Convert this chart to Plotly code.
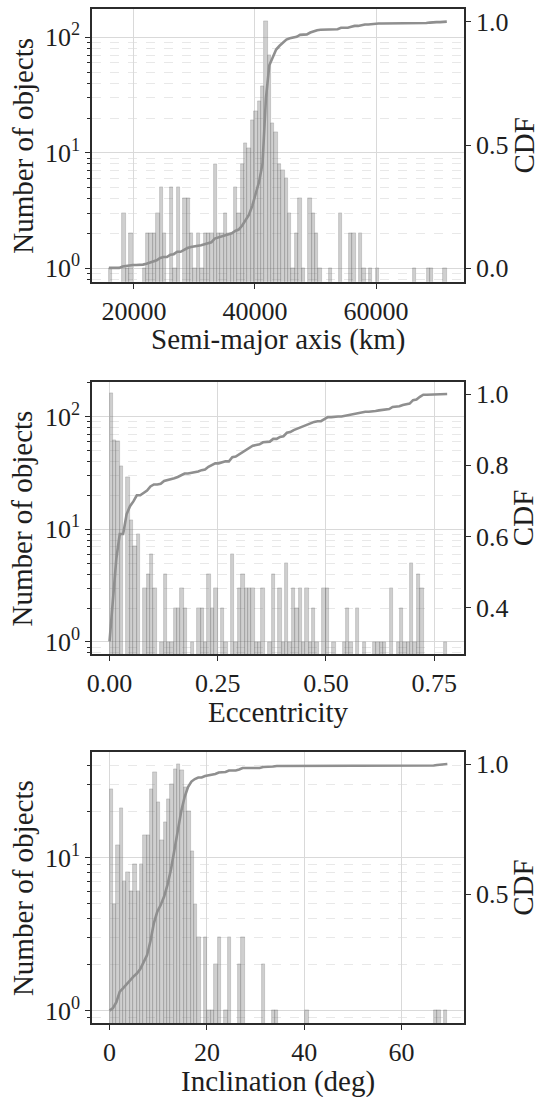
import numpy as np
import plotly.graph_objects as go

# ---------------- data (histogram bins: start, width, counts per bin) ----------------
SMA_START = 15870.0
SMA_WIDTH = 558.2
SMA_COUNTS = [1, 0, 0, 0, 3, 1, 2, 0, 0, 0,
              1, 2, 2, 2, 3, 5, 2, 0, 5, 1,
              5, 0, 4, 4, 2, 1, 2, 1, 2, 2,
              2, 8, 2, 2, 3, 2, 2, 5, 3, 8,
              12, 11, 19, 23, 28, 38, 138, 70, 18, 15,
              8, 7, 6, 3, 1, 2, 4, 1, 0, 4,
              3, 2, 1, 0, 0, 1, 0, 0, 3, 0,
              0, 2, 2, 0, 2, 1, 0, 1, 0, 1,
              0, 0, 0, 0, 0, 0, 0, 0, 0, 0,
              1, 0, 0, 0, 1, 1, 0, 0, 0, 1]

ECC_START = 0.0
ECC_WIDTH = 0.0078
ECC_COUNTS = [160, 62, 60, 36, 0, 29, 12, 7, 9, 0,
              3, 4, 6, 3, 0, 1, 4, 1, 1, 2,
              2, 3, 2, 0, 1, 0, 2, 2, 1, 4,
              2, 3, 0, 2, 1, 0, 6, 1, 3, 4,
              3, 3, 3, 1, 1, 3, 0, 1, 4, 0,
              3, 1, 5, 1, 3, 2, 3, 1, 3, 1,
              2, 1, 0, 3, 3, 0, 1, 0, 0, 1,
              2, 1, 0, 2, 0, 1, 0, 0, 1, 1,
              1, 1, 0, 3, 0, 1, 2, 1, 1, 5,
              1, 4, 3, 0, 0, 0, 0, 0, 0, 1]

INC_START = 0.0
INC_WIDTH = 0.694
INC_COUNTS = [28, 5, 12, 21, 7, 8, 6, 9, 6, 9,
              14, 14, 28, 36, 23, 13, 17, 24, 30, 38,
              41, 37, 29, 20, 11, 5, 3, 0, 3, 1,
              1, 2, 3, 0, 1, 3, 0, 0, 2, 3,
              0, 0, 0, 0, 0, 2, 0, 0, 1, 1,
              0, 0, 0, 0, 0, 0, 0, 0, 1, 0,
              0, 0, 0, 0, 0, 0, 0, 0, 0, 0,
              0, 0, 0, 0, 0, 0, 0, 0, 0, 0,
              0, 0, 0, 0, 0, 0, 0, 0, 0, 0,
              0, 0, 0, 0, 0, 0, 1, 1, 0, 1]

X_LABELS = ["Semi-major axis (km)", "Eccentricity", "Inclination (deg)"]
Y_LABEL = "Number of objects"
CDF_LABEL = "CDF"

# ---------------- styling / layout ----------------
W, H = 539, 1097
ML, MR = 92, 75
FONT = "'Liberation Serif', 'Times New Roman', 'DejaVu Serif', serif"
TXT = "#1e1e1e"
SPINE = "#2b2b2b"
GRID = "#d9d9d9"
MINOR_GRID = "#e8e8e8"
BAR_FILL = "rgba(128,128,128,0.38)"
BAR_EDGE = "rgba(110,110,110,0.35)"
LINE_COL = "#8f8f8f"
TICK_SIZE = 26
TITLE_SIZE = 29

panels = [
    dict(start=SMA_START, width=SMA_WIDTH, counts=SMA_COUNTS,
         top=9.3, bottom=281.7,
         xrange=[13074, 74530], xtick=[20000, 40000, 60000], xfmt="d",
         yrange=[-0.116, 2.242], ytick=[1, 10, 100],
         y2range=[-0.054, 1.05], y2tick=[0.0, 0.5, 1.0]),
    dict(start=ECC_START, width=ECC_WIDTH, counts=ECC_COUNTS,
         top=382.3, bottom=654.0,
         xrange=[-0.0405, 0.8189], xtick=[0.0, 0.25, 0.5, 0.75], xfmt=".2f",
         yrange=[-0.107, 2.305], ytick=[1, 10, 100],
         y2range=[0.270, 1.033], y2tick=[0.4, 0.6, 0.8, 1.0]),
    dict(start=INC_START, width=INC_WIDTH, counts=INC_COUNTS,
         top=752.3, bottom=1023.3,
         xrange=[-3.6, 72.82], xtick=[0, 20, 40, 60], xfmt="d",
         yrange=[-0.082, 1.689], ytick=[1, 10],
         y2range=[0.005, 1.045], y2tick=[0.5, 1.0]),
]

SUP = {1: "10<sup>0</sup>", 10: "10<sup>1</sup>", 100: "10<sup>2</sup>"}
MINOR_VALS = [0.7, 0.8, 0.9] + [m * 10 ** e for e in range(0, 3) for m in range(2, 10)]

fig = go.Figure()
layout = dict(
    width=W, height=H,
    margin=dict(l=ML, r=MR, t=0, b=0, pad=0),
    paper_bgcolor="white", plot_bgcolor="white",
    showlegend=False, bargap=0,
    font=dict(family=FONT, size=TICK_SIZE, color=TXT),
)
annotations = []

for k, p in enumerate(panels):
    xi = "" if k == 0 else str(k + 1)
    yl = str(2 * k + 1)
    yr = str(2 * k + 2)
    yl_ref = "y" if k == 0 else "y" + yl
    yr_ref = "y" + yr
    x_ref = "x" + xi

    counts = np.array(p["counts"], dtype=float)
    n = len(counts)
    centers = p["start"] + p["width"] * (np.arange(n) + 0.5)
    bars = [c if c > 0 else None for c in counts]
    cdf = np.cumsum(counts) / counts.sum()
    cdf_x = np.linspace(p["start"], p["start"] + p["width"] * n, n)

    fig.add_trace(go.Bar(
        x=centers, y=bars, width=p["width"],
        marker=dict(color=BAR_FILL, line=dict(color=BAR_EDGE, width=0.8)),
        xaxis=x_ref, yaxis=yl_ref, hoverinfo="skip",
    ))
    fig.add_trace(go.Scatter(
        x=cdf_x, y=cdf, mode="lines",
        line=dict(color=LINE_COL, width=2.6),
        xaxis=x_ref, yaxis=yr_ref, hoverinfo="skip",
    ))

    dom = [1 - p["bottom"] / H, 1 - p["top"] / H]

    layout["xaxis" + xi] = dict(
        domain=[0, 1], anchor=yl_ref, range=p["xrange"],
        tickmode="array", tickvals=p["xtick"], tickformat=p["xfmt"],
        ticks="outside", ticklen=5, tickwidth=1.2, tickcolor=SPINE,
        showgrid=True, gridcolor=GRID, gridwidth=1.2,
        showline=True, linecolor=SPINE, linewidth=1.6, mirror=True,
        zeroline=False, automargin=False,
        tickfont=dict(family=FONT, size=TICK_SIZE, color=TXT),
    )
    layout["yaxis" + yl] = dict(
        domain=dom, anchor=x_ref, type="log", range=p["yrange"],
        tickmode="array", tickvals=p["ytick"],
        ticktext=[SUP[v] for v in p["ytick"]],
        ticks="outside", ticklen=5, tickwidth=1.2, tickcolor=SPINE,
        showgrid=True, gridcolor=GRID, gridwidth=1.2,
        minor=dict(tickmode="array", tickvals=MINOR_VALS, ticks="outside",
                   ticklen=3, tickwidth=1, tickcolor=SPINE,
                   showgrid=True, gridcolor=MINOR_GRID, gridwidth=1,
                   griddash="dash"),
        showline=True, linecolor=SPINE, linewidth=1.6, mirror=True,
        zeroline=False, automargin=False,
        tickfont=dict(family=FONT, size=TICK_SIZE, color=TXT),
    )
    layout["yaxis" + yr] = dict(
        overlaying=yl_ref, anchor=x_ref, side="right", range=p["y2range"],
        tickmode="array", tickvals=p["y2tick"], tickformat=".1f",
        ticks="outside", ticklen=5, tickwidth=1.2, tickcolor=SPINE,
        showgrid=False, zeroline=False, showline=True,
        linecolor=SPINE, linewidth=1.6, automargin=False,
        tickfont=dict(family=FONT, size=TICK_SIZE, color=TXT),
    )

    mid = (p["top"] + p["bottom"]) / 2
    annotations.append(dict(
        text=X_LABELS[k], xref="paper", yref="paper",
        x=0.5, y=1 - (p["bottom"] + 58) / H,
        xanchor="center", yanchor="middle", showarrow=False,
        font=dict(family=FONT, size=TITLE_SIZE, color=TXT)))
    annotations.append(dict(
        text=Y_LABEL, xref="paper", yref="paper",
        x=(22.3 - ML) / (W - ML - MR), y=1 - mid / H,
        xanchor="center", yanchor="middle", textangle=-90, showarrow=False,
        font=dict(family=FONT, size=TITLE_SIZE, color=TXT)))
    annotations.append(dict(
        text=CDF_LABEL, xref="paper", yref="paper",
        x=(523 - ML) / (W - ML - MR), y=1 - mid / H,
        xanchor="center", yanchor="middle", textangle=-90, showarrow=False,
        font=dict(family=FONT, size=TITLE_SIZE, color=TXT)))

layout["annotations"] = annotations
fig.update_layout(**layout)
fig.write_html("out.html")
